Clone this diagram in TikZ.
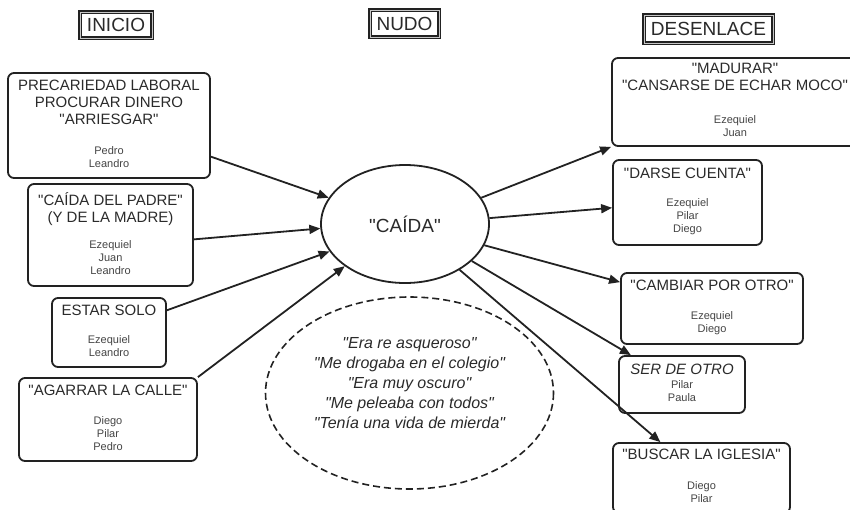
\documentclass[tikz,border=0pt]{standalone}
\usepackage{fontspec}
\setmainfont{Liberation Sans}[Ligatures=TeXOff]
\definecolor{tinta}{HTML}{222222}
\definecolor{texto}{HTML}{2A2A2A}
\definecolor{nombre}{HTML}{444444}
\usetikzlibrary{shapes.geometric,arrows.meta,calc}
\newcommand{\nombres}[1]{{\fontsize{11}{13}\selectfont\color{nombre}\begin{tabular}[t]{@{}c@{}}#1\end{tabular}}}
\tikzset{
  caja/.style={draw=tinta,line width=1.8pt,rounded corners=6pt,align=center,
    text=texto,font=\fontsize{15}{17}\selectfont,inner sep=0pt},
  titulo/.style={draw=tinta,line width=3.2pt,postaction={draw=gray!45,line width=0.7pt},
    font=\fontsize{19}{21}\selectfont,text=texto,inner sep=0pt},
  flecha/.style={draw=tinta,line width=1.8pt,-{Triangle[length=11pt,width=9pt]}}
}

\begin{document}
\begin{tikzpicture}[x=1pt,y=-1pt]
\useasboundingbox (0,0) rectangle (850,509);
\clip (0,0) rectangle (850,509);

% encabezados
\node[titulo,minimum width=72pt,minimum height=26pt] (inicio) at (116,25) {INICIO};
\node[titulo,minimum width=69pt,minimum height=27pt] (nudo) at (404.5,23.5) {NUDO};
\node[titulo,minimum width=129pt,minimum height=28pt] (desenlace) at (708.5,29) {DESENLACE};

% inicio
\node[caja,minimum width=202pt,minimum height=105pt] (prec) at (109,125.5)
  {PRECARIEDAD LABORAL\\PROCURAR DINERO\\"ARRIESGAR"\\[13pt]\nombres{Pedro\\Leandro}};
\node[caja,minimum width=165pt,minimum height=102pt] (padre) at (110.5,235)
  {"CAÍDA DEL PADRE"\\(Y DE LA MADRE)\\[9pt]\nombres{Ezequiel\\Juan\\Leandro}};
\node[caja,minimum width=114pt,minimum height=69pt] (solo) at (109,332.5)
  {ESTAR SOLO\\[11pt]\nombres{Ezequiel\\Leandro}};
\node[caja,minimum width=178pt,minimum height=83pt] (calle) at (108,419.5)
  {"AGARRAR LA CALLE"\\[12pt]\nombres{Diego\\Pilar\\Pedro}};

% nudo
\node[ellipse,draw=tinta,line width=1.8pt,minimum width=168pt,minimum height=118pt,
  inner sep=0pt,text=texto,font=\fontsize{19}{21}\selectfont] (caida) at (405,224) {"CAÍDA"};
\draw[tinta,line width=1.6pt,dash pattern=on 7pt off 4pt] (409.5,393) ellipse [x radius=144, y radius=96];
\node[align=center,text=texto,font=\fontsize{16}{20}\selectfont\itshape] (citas) at (409.5,383)
  {"Era re asqueroso"\\"Me drogaba en el colegio"\\"Era muy oscuro"\\"Me peleaba con todos"\\"Tenía una vida de mierda"};

% desenlace
\node[caja,minimum width=246pt,minimum height=88pt] (madurar) at (735,102)
  {"MADURAR"\\"CANSARSE DE ECHAR MOCO"\\[16pt]\nombres{Ezequiel\\Juan}};
\node[caja,minimum width=149pt,minimum height=85pt] (darse) at (687.5,202.5)
  {"DARSE CUENTA"\\[11pt]\nombres{Ezequiel\\Pilar\\Diego}};
\node[caja,minimum width=182pt,minimum height=71pt] (cambiar) at (712,308.5)
  {"CAMBIAR POR OTRO"\\[12pt]\nombres{Ezequiel\\Diego}};
\node[caja,minimum width=126pt,minimum height=57pt] (otro) at (682,384.5)
  {\itshape SER DE OTRO\\[-3pt]\nombres{Pilar\\Paula}};
\node[caja,minimum width=177pt,minimum height=70pt] (iglesia) at (701.5,478)
  {"BUSCAR LA IGLESIA"\\[13pt]\nombres{Diego\\Pilar}};

% flechas
\draw[flecha] (prec.-17) -- (caida.161);
\draw[flecha] (padre.-3) -- (caida.183);
\draw[flecha] (solo.21) -- (caida.200);
\draw[flecha] (calle.north east) -- (caida.215);
\draw[flecha] (caida.19) -- (madurar.south west);
\draw[flecha] (caida.4) -- (darse.184);
\draw[flecha] (caida.-15) -- (cambiar.164);
\draw[flecha] (caida.-29) -- ($(otro.north west)!0.1!(otro.north east)$);
\draw[flecha] (caida.-40) -- ($(iglesia.north west)!0.27!(iglesia.north east)$);
\end{tikzpicture}
\end{document}
